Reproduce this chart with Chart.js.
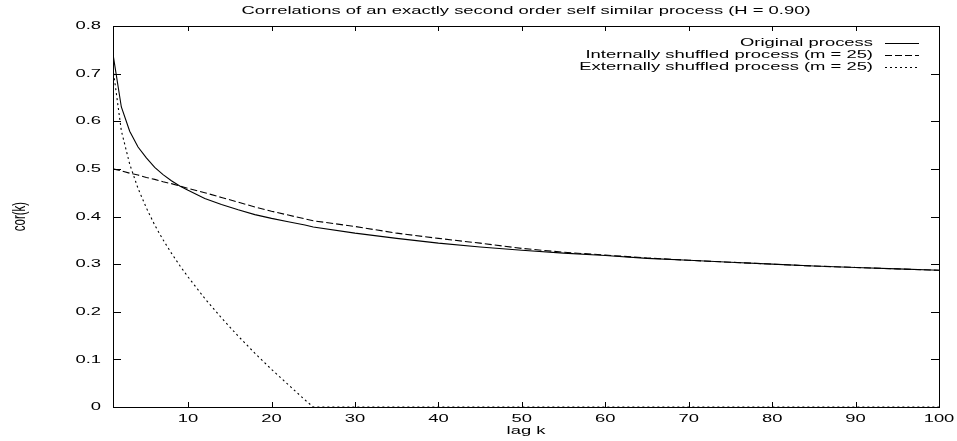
<!DOCTYPE html>
<html>
<head>
<meta charset="utf-8">
<script src="https://cdn.jsdelivr.net/npm/chart.js@4/dist/chart.umd.min.js"></script>
<style>
  html, body { margin: 0; padding: 0; background: #fff; }
  #wrap { width: 957px; height: 441px; }
</style>
</head>
<body>
<div id="wrap"><canvas id="chart" width="957" height="441"></canvas></div>
<script>
// lag values shared by the three series
const lags = [1, 2, 3, 4, 5, 6, 7, 8, 9, 10, 12, 14, 16, 18, 20, 22, 24, 25,
    30, 35, 40, 45, 50, 55, 60, 65, 70, 75, 80, 85, 90, 95, 100];

const original = [0.741, 0.630, 0.579, 0.546, 0.523, 0.503, 0.488, 0.475, 0.464, 0.455,
    0.438, 0.425, 0.414, 0.404, 0.396, 0.389, 0.382, 0.378,
    0.365, 0.354, 0.344, 0.336, 0.329, 0.323, 0.318, 0.312, 0.308, 0.304, 0.300, 0.296, 0.293, 0.290, 0.287];

const internal = [0.500, 0.496, 0.491, 0.487, 0.482, 0.478, 0.473, 0.469, 0.464, 0.459,
    0.450, 0.440, 0.430, 0.420, 0.411, 0.403, 0.395, 0.391,
    0.379, 0.365, 0.354, 0.344, 0.333, 0.325, 0.319, 0.313, 0.308, 0.304, 0.300, 0.296, 0.293, 0.290, 0.287];

const external = [0.711, 0.580, 0.510, 0.459, 0.418, 0.382, 0.351, 0.323, 0.297, 0.273,
    0.228, 0.187, 0.149, 0.113, 0.079, 0.047, 0.015, 0,
    0, 0, 0, 0, 0, 0, 0, 0, 0, 0, 0, 0, 0, 0, 0];

const xTicks = [10, 20, 30, 40, 50, 60, 70, 80, 90, 100];
const yTicks = [0, 0.1, 0.2, 0.3, 0.4, 0.5, 0.6, 0.7, 0.8];
const yTickLabels = ["0", "0.1", "0.2", "0.3", "0.4", "0.5", "0.6", "0.7", "0.8"];

const titleText = "Correlations of an exactly second order self similar process (H = 0.90)";
const seriesNames = ["Original process", "Internally shuffled process (m = 25)", "Externally shuffled process (m = 25)"];
const dashes = [[], [7, 3], [2, 3]];

// text looks horizontally stretched in the reference (gnuplot output resized)
const FONT = "11.5px 'Liberation Sans', Arial, sans-serif";
const SX = 1.6;

function stretchText(ctx, text, x, y, align) {
    ctx.save();
    ctx.translate(x, y);
    ctx.scale(SX, 1);
    ctx.textAlign = align;
    ctx.textBaseline = "middle";
    ctx.fillText(text, 0, 0);
    ctx.restore();
}

const gnuplotFrame = {
    id: "gnuplotFrame",
    afterDraw(chart) {
        const ctx = chart.ctx;
        const a = chart.chartArea;
        const xs = chart.scales.x, ys = chart.scales.y;
        ctx.save();
        ctx.strokeStyle = "#000";
        ctx.fillStyle = "#000";
        ctx.lineWidth = 1;
        ctx.font = FONT;

        // border
        ctx.strokeRect(Math.round(a.left) + 0.5, Math.round(a.top) + 0.5,
            Math.round(a.right - a.left), Math.round(a.bottom - a.top));

        // inward ticks, mirrored
        ctx.beginPath();
        yTicks.forEach(v => {
            const py = Math.round(ys.getPixelForValue(v)) + 0.5;
            ctx.moveTo(a.left, py); ctx.lineTo(a.left + 8, py);
            ctx.moveTo(a.right, py); ctx.lineTo(a.right - 8, py);
        });
        xTicks.forEach(v => {
            const px = Math.round(xs.getPixelForValue(v)) + 0.5;
            ctx.moveTo(px, a.bottom); ctx.lineTo(px, a.bottom - 5);
            ctx.moveTo(px, a.top); ctx.lineTo(px, a.top + 5);
        });
        ctx.stroke();

        // tick labels
        yTicks.forEach((v, i) => {
            stretchText(ctx, yTickLabels[i], a.left - 12, ys.getPixelForValue(v), "right");
        });
        xTicks.forEach(v => {
            stretchText(ctx, String(v), xs.getPixelForValue(v), a.bottom + 12, "center");
        });

        // titles
        const cx = (a.left + a.right) / 2;
        stretchText(ctx, titleText, cx, 11, "center");
        stretchText(ctx, "lag k", cx, 431, "center");

        ctx.save();
        ctx.translate(20, (a.top + a.bottom) / 2);
        ctx.scale(SX, 1);
        ctx.rotate(-Math.PI / 2);
        ctx.textAlign = "center";
        ctx.textBaseline = "middle";
        ctx.fillText("cor(k)", 0, 0);
        ctx.restore();

        // legend, gnuplot style: text right aligned, sample to its right
        const rows = [43, 55, 67];
        seriesNames.forEach((name, i) => {
            stretchText(ctx, name, 873, rows[i], "right");
            ctx.setLineDash(dashes[i]);
            ctx.beginPath();
            ctx.moveTo(885, rows[i] + 0.5);
            ctx.lineTo(919, rows[i] + 0.5);
            ctx.stroke();
        });
        ctx.setLineDash([]);
        ctx.restore();
    }
};

const ctx = document.getElementById("chart").getContext("2d");

const makeSet = (label, values, dash) => ({
    label: label,
    data: lags.map((k, i) => ({ x: k, y: values[i] })),
    borderColor: "#000",
    borderWidth: 1.1,
    borderDash: dash,
    pointRadius: 0,
    tension: 0,
    fill: false
});

new Chart(ctx, {
    type: "line",
    data: {
        datasets: [
            makeSet(seriesNames[0], original, dashes[0]),
            makeSet(seriesNames[1], internal, dashes[1]),
            makeSet(seriesNames[2], external, dashes[2])
        ]
    },
    options: {
        responsive: false,
        animation: false,
        devicePixelRatio: 1,
        layout: { padding: { left: 113, right: 18, top: 26, bottom: 34 } },
        scales: {
            x: { type: "linear", min: 1, max: 100, display: false },
            y: { type: "linear", min: 0, max: 0.8, display: false }
        },
        plugins: {
            legend: { display: false },
            title: { display: false },
            tooltip: { enabled: false }
        }
    },
    plugins: [gnuplotFrame]
});
</script>
</body>
</html>
